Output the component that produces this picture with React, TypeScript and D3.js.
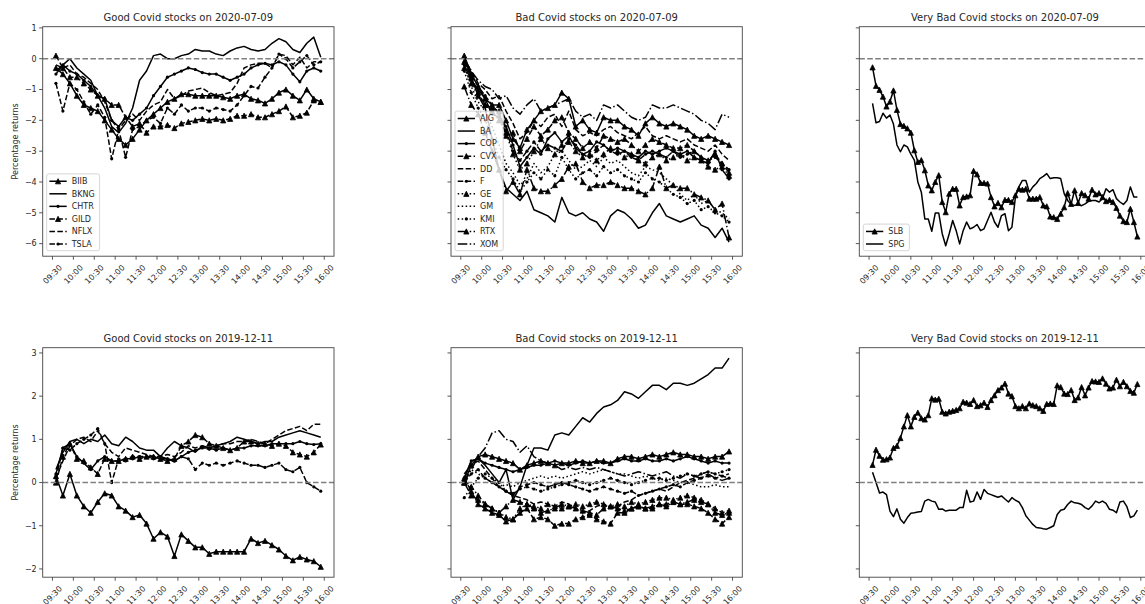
import React from "react";
import * as d3 from "d3";

// tick labels
const timeTicks = ["09:30", "10:00", "10:30", "11:00", "11:30", "12:00", "12:30", "13:00", "13:30", "14:00", "14:30", "15:00", "15:30", "16:00"];
const yTicksTop = [-6, -5, -4, -3, -2, -1, 0, 1];
const yTicksBottom = [-2, -1, 0, 1, 2, 3];

// sampling grids, minutes after 09:30
const every10 = d3.range(5, 386, 10);
const every5 = d3.range(5, 386, 5);

const goodNames = ["BIIB", "BKNG", "CHTR", "GILD", "NFLX", "TSLA"];
const badNames = ["AIG", "BA", "COP", "CVX", "DD", "F", "GE", "GM", "KMI", "RTX", "XOM"];
const veryBadNames = ["SLB", "SPG"];

// ---- 2020-07-09, good ----
const BIIB_0709 = [-0.3, -0.5, -0.8, -1.2, -1.5, -1.6, -1.7, -2.0, -2.3, -2.6, -2.8, -2.6, -2.3, -2.0, -1.8, -1.6, -1.4, -1.3, -1.15, -1.15, -1.2, -1.2, -1.2, -1.2, -1.25, -1.3, -1.2, -1.15, -1.3, -1.35, -1.45, -1.3, -1.1, -1.0, -1.2, -1.35, -1.0, -1.3, -1.4];
const BKNG_0709 = [-0.4, -0.2, 0.0, -0.3, -0.5, -0.7, -1.2, -1.6, -2.2, -2.4, -2.1, -1.6, -0.7, -0.4, 0.1, 0.15, 0.0, 0.0, 0.1, 0.15, 0.3, 0.25, 0.25, 0.15, 0.1, 0.25, 0.35, 0.4, 0.3, 0.25, 0.3, 0.5, 0.65, 0.55, 0.3, 0.2, 0.5, 0.7, 0.05];
const CHTR_0709 = [-0.5, -0.2, -0.4, -0.5, -0.7, -0.9, -1.2, -1.3, -2.0, -2.2, -1.9, -2.0, -1.8, -1.6, -1.2, -0.9, -0.6, -0.5, -0.4, -0.3, -0.35, -0.45, -0.5, -0.5, -0.6, -0.7, -0.6, -0.5, -0.3, -0.2, -0.15, -0.2, -0.1, -0.2, -0.5, -0.75, -0.4, -0.3, -0.4];
const GILD_0709 = [0.1, -0.3, -0.6, -0.6, -0.8, -1.0, -1.2, -1.3, -1.5, -1.5, -1.9, -2.2, -2.1, -2.4, -2.2, -2.2, -2.15, -2.25, -2.1, -2.05, -2.0, -1.95, -2.0, -1.95, -2.0, -1.95, -1.85, -1.85, -1.8, -1.9, -1.9, -1.8, -1.7, -1.55, -1.9, -1.85, -1.75, -1.35, -1.4];
const NFLX_0709 = [-0.2, -0.3, -0.2, -0.5, -0.6, -0.8, -1.0, -1.4, -2.0, -2.3, -2.0, -1.8, -2.0, -1.7, -1.5, -1.4, -1.0, -1.3, -1.2, -1.05, -1.0, -0.95, -1.1, -1.2, -1.15, -1.1, -0.8, -0.3, -0.2, -0.15, -0.15, -0.3, 0.15, 0.1, -0.2, 0.05, -0.3, -0.1, -0.1];
const TSLA_0709 = [-0.8, -1.7, -0.8, -1.0, -1.4, -1.8, -1.5, -1.9, -3.25, -2.3, -3.2, -2.3, -2.2, -2.0, -1.9, -2.1, -1.6, -1.8, -1.5, -1.7, -1.6, -1.6, -1.7, -1.6, -1.65, -1.7, -1.5, -1.2, -0.9, -0.95, -0.6, -0.3, 0.15, 0.0, -0.3, -0.1, 0.1, -0.2, -0.1];

// ---- 2020-07-09, bad ----
const AIG_0709 = [0.1, -0.5, -0.9, -1.3, -1.5, -1.5, -2.0, -2.6, -2.9, -2.3, -2.0, -1.7, -1.6, -1.5, -1.1, -1.3, -2.2, -2.0, -2.3, -2.4, -1.9, -2.0, -2.0, -2.2, -2.3, -2.5, -2.1, -1.9, -2.1, -2.2, -2.1, -2.2, -2.3, -2.5, -2.6, -2.5, -2.6, -2.7, -2.8];
const BA_0709 = [0.0, -0.6, -1.2, -1.6, -2.6, -3.6, -4.2, -4.4, -4.6, -4.3, -4.9, -5.0, -5.1, -5.3, -4.5, -5.0, -5.1, -5.0, -5.2, -5.3, -5.6, -5.1, -4.9, -5.0, -5.2, -5.5, -5.4, -5.0, -4.7, -5.1, -5.2, -5.3, -5.2, -5.1, -5.4, -5.5, -5.8, -5.5, -5.95];
const COP_0709 = [-0.2, -0.7, -1.0, -1.3, -1.8, -1.9, -2.2, -2.8, -3.5, -3.2, -2.9, -3.1, -2.6, -2.4, -2.7, -2.5, -2.9, -3.1, -3.0, -2.7, -2.8, -3.0, -2.9, -3.0, -3.1, -3.2, -3.0, -3.1, -3.0, -2.9, -3.0, -3.1, -3.0, -3.2, -3.3, -3.4, -3.0, -3.6, -3.9];
const CVX_0709 = [-0.1, -0.6, -1.1, -1.5, -1.6, -1.7, -2.5, -2.4, -3.0, -2.6, -2.2, -2.5, -2.3, -2.0, -1.9, -2.4, -2.6, -2.9, -2.7, -2.9, -2.5, -2.6, -2.7, -2.6, -2.8, -3.0, -2.8, -2.6, -2.7, -2.8, -2.9, -2.9, -2.8, -3.0, -3.2, -3.3, -3.1, -3.4, -3.7];
const DD_0709 = [0.0, -0.4, -0.8, -1.0, -1.3, -1.2, -1.7, -2.1, -2.6, -2.4, -2.0, -2.2, -1.9, -1.8, -2.2, -1.7, -2.3, -2.5, -2.4, -2.5, -2.3, -2.2, -2.4, -2.5, -2.6, -2.4, -2.2, -2.5, -2.6, -2.5, -2.6, -2.7, -2.6, -2.8, -2.9, -3.0, -2.8, -3.1, -3.3];
const F_0709 = [-0.1, -0.5, -0.9, -1.2, -1.5, -1.8, -2.3, -3.0, -3.3, -3.0, -2.7, -3.0, -2.8, -2.9, -3.0, -2.6, -2.8, -3.1, -3.2, -3.0, -2.8, -3.0, -3.1, -3.0, -3.2, -3.3, -3.1, -3.0, -3.1, -3.2, -3.0, -3.2, -3.1, -3.0, -3.2, -3.3, -3.2, -3.4, -3.6];
const GE_0709 = [-0.3, -0.8, -1.2, -1.5, -1.7, -2.0, -2.4, -3.1, -3.6, -3.4, -3.0, -2.6, -2.9, -3.1, -2.8, -2.7, -3.0, -3.2, -3.1, -3.3, -3.1, -2.9, -3.0, -3.2, -3.1, -3.3, -3.4, -3.2, -3.1, -3.3, -3.2, -3.1, -3.3, -3.2, -3.3, -3.5, -3.6, -3.5, -3.8];
const GM_0709 = [-0.2, -0.9, -1.4, -1.7, -2.2, -2.8, -3.4, -3.7, -4.1, -3.9, -3.4, -3.7, -3.5, -3.1, -3.0, -3.3, -3.6, -3.5, -3.3, -3.5, -3.2, -3.4, -3.3, -3.5, -3.7, -3.8, -3.5, -3.6, -3.7, -3.9, -4.1, -4.4, -4.6, -4.4, -4.7, -4.6, -4.9, -5.0, -5.2];
const KMI_0709 = [-0.4, -1.1, -1.6, -2.0, -2.6, -3.2, -3.6, -3.9, -4.3, -4.0, -3.7, -3.9, -3.6, -3.8, -3.2, -3.6, -3.9, -3.7, -3.6, -3.8, -3.5, -3.7, -3.6, -3.8, -3.9, -4.0, -3.7, -3.9, -4.0, -4.2, -4.4, -4.5, -4.7, -4.6, -4.9, -4.8, -5.0, -5.1, -5.3];
const RTX_0709 = [-0.9, -1.5, -1.8, -2.4, -3.0, -3.6, -4.3, -4.0, -4.4, -3.6, -4.2, -4.3, -4.3, -4.1, -3.9, -3.5, -3.4, -4.0, -4.2, -4.1, -4.1, -4.0, -4.1, -4.2, -4.2, -4.3, -4.4, -4.2, -3.5, -4.2, -4.1, -4.2, -4.2, -4.4, -4.5, -4.6, -4.9, -4.7, -5.8];
const XOM_0709 = [0.0, -0.4, -0.7, -0.9, -1.0, -1.3, -1.2, -1.6, -1.8, -1.5, -1.3, -1.7, -1.6, -1.5, -1.4, -1.3, -1.7, -1.9, -1.8, -2.0, -1.5, -1.6, -1.5, -1.7, -1.9, -2.0, -1.9, -1.5, -1.6, -1.6, -1.5, -1.6, -1.7, -1.8, -2.0, -2.1, -2.3, -1.8, -1.9];

// ---- 2020-07-09, very bad (5 min) ----
const SLB_0709 = [-0.28, -0.88, -1.01, -1.23, -1.55, -1.39, -1.03, -1.66, -2.12, -2.18, -2.26, -2.4, -2.97, -3.35, -3.29, -3.62, -4.11, -4.27, -4.0, -3.78, -4.65, -4.98, -4.38, -4.22, -4.22, -4.76, -4.49, -4.47, -4.43, -3.64, -3.75, -4.03, -4.03, -4.05, -4.49, -4.79, -4.68, -4.82, -4.58, -4.58, -4.65, -4.43, -4.22, -4.25, -4.22, -4.54, -4.54, -4.54, -4.49, -4.76, -4.79, -5.12, -5.14, -5.2, -5.03, -4.82, -4.36, -4.71, -4.27, -4.68, -4.36, -4.43, -4.54, -4.25, -4.4, -4.36, -4.49, -4.62, -4.58, -4.65, -4.84, -5.09, -5.27, -5.3, -4.87, -5.3, -5.77];
const SPG_0709 = [-1.45, -2.08, -2.04, -1.77, -1.93, -1.83, -2.12, -2.8, -3.02, -2.8, -2.86, -3.1, -3.29, -4.0, -4.33, -5.2, -5.2, -5.6, -5.01, -5.01, -5.68, -6.07, -5.68, -5.25, -5.58, -6.01, -5.58, -5.3, -5.52, -5.47, -5.38, -5.58, -5.52, -5.25, -4.98, -5.3, -5.47, -5.09, -5.03, -5.58, -5.47, -4.49, -4.16, -3.95, -3.95, -4.33, -4.16, -4.05, -3.89, -3.82, -3.73, -3.89, -3.86, -3.86, -3.89, -4.38, -4.6, -4.73, -4.76, -4.73, -4.77, -4.71, -4.63, -4.6, -4.6, -4.65, -4.54, -4.22, -4.33, -4.25, -4.54, -4.65, -4.73, -4.6, -4.16, -4.49, -4.49];

// ---- 2019-12-11, good ----
const BIIB_1211 = [0.15, -0.3, 0.2, -0.3, -0.55, -0.7, -0.45, -0.25, -0.3, -0.55, -0.65, -0.8, -0.75, -0.95, -1.3, -1.15, -1.25, -1.7, -1.2, -1.35, -1.5, -1.5, -1.65, -1.6, -1.6, -1.6, -1.6, -1.6, -1.3, -1.4, -1.35, -1.45, -1.55, -1.7, -1.8, -1.72, -1.78, -1.82, -1.95];
const BKNG_1211 = [0.3, 0.7, 0.95, 1.0, 0.9, 1.0, 0.95, 1.1, 0.9, 0.85, 1.05, 0.95, 0.8, 0.75, 0.75, 0.6, 0.8, 0.95, 0.85, 0.8, 0.7, 0.85, 0.8, 0.85, 0.9, 0.95, 1.05, 1.0, 0.95, 0.9, 0.95, 0.95, 1.05, 1.1, 1.15, 1.2, 1.15, 1.1, 1.05];
const CHTR_1211 = [0.2, 0.8, 0.9, 0.6, 0.45, 0.3, 0.5, 0.6, 0.5, 0.5, 0.55, 0.55, 0.6, 0.58, 0.6, 0.55, 0.55, 0.5, 0.6, 0.7, 0.75, 0.8, 0.8, 0.75, 0.8, 0.75, 0.8, 0.8, 0.85, 0.85, 0.85, 0.9, 0.9, 0.9, 0.9, 0.95, 0.9, 0.88, 0.9];
const GILD_1211 = [0.0, 0.6, 0.9, 0.55, 0.5, 0.35, 0.2, 0.55, 0.5, 0.5, 0.55, 0.6, 0.55, 0.6, 0.6, 0.55, 0.5, 0.55, 0.85, 0.95, 1.1, 1.05, 0.9, 0.85, 0.8, 0.75, 0.8, 0.95, 0.95, 0.9, 0.9, 0.85, 0.9, 0.85, 0.7, 0.65, 0.6, 0.7, 0.88];
const NFLX_1211 = [0.1, 0.5, 0.85, 1.0, 1.05, 0.95, 1.2, 0.9, 0.7, 0.6, 0.8, 0.75, 0.7, 0.65, 0.6, 0.6, 0.65, 0.6, 0.7, 0.85, 0.8, 0.85, 0.75, 0.85, 0.9, 0.9, 0.95, 0.95, 1.0, 0.95, 0.9, 1.0, 1.1, 1.2, 1.25, 1.3, 1.2, 1.35, 1.35];
const TSLA_1211 = [0.1, 0.8, 0.75, 0.9, 1.0, 1.1, 1.25, 0.9, 0.0, 0.55, 0.5, 0.6, 0.6, 0.6, 0.55, 0.6, 0.55, 0.5, 0.6, 0.55, 0.3, 0.45, 0.4, 0.45, 0.4, 0.45, 0.5, 0.45, 0.4, 0.4, 0.35, 0.4, 0.45, 0.3, 0.25, 0.35, 0.0, -0.1, -0.2];

// ---- 2019-12-11, bad ----
const AIG_1211 = [0.0, 0.4, 0.6, 0.65, 0.6, 0.55, 0.5, 0.45, 0.3, 0.4, 0.45, 0.5, 0.45, 0.4, 0.45, 0.45, 0.5, 0.45, 0.45, 0.5, 0.5, 0.45, 0.55, 0.6, 0.6, 0.55, 0.6, 0.65, 0.6, 0.65, 0.7, 0.65, 0.65, 0.6, 0.6, 0.55, 0.6, 0.6, 0.72];
const BA_1211 = [0.1, 0.5, 0.55, 0.4, 0.2, 0.0, 0.3, -0.4, -0.1, 0.4, 0.8, 0.8, 0.75, 1.1, 1.15, 1.1, 1.3, 1.5, 1.4, 1.6, 1.75, 1.8, 1.9, 2.1, 2.05, 1.95, 2.1, 2.25, 2.25, 2.15, 2.3, 2.3, 2.25, 2.3, 2.4, 2.5, 2.65, 2.65, 2.88];
const COP_1211 = [0.1, 0.5, 0.55, 0.45, 0.4, 0.35, 0.3, 0.25, 0.3, 0.35, 0.4, 0.4, 0.45, 0.5, 0.45, 0.4, 0.45, 0.5, 0.45, 0.5, 0.45, 0.45, 0.5, 0.55, 0.5, 0.5, 0.55, 0.5, 0.5, 0.55, 0.5, 0.55, 0.6, 0.55, 0.5, 0.45, 0.5, 0.45, 0.45];
const CVX_1211 = [0.1, -0.2, -0.5, -0.6, -0.7, -0.75, -0.9, -0.85, -0.7, -0.6, -0.85, -0.8, -0.85, -1.0, -0.95, -0.95, -0.85, -0.8, -0.75, -0.85, -0.9, -0.95, -0.7, -0.7, -0.6, -0.55, -0.6, -0.6, -0.5, -0.5, -0.45, -0.5, -0.5, -0.55, -0.6, -0.7, -0.85, -0.95, -0.8];
const DD_1211 = [0.2, 0.4, 0.5, 0.3, 0.1, -0.1, -0.2, -0.3, -0.35, -0.4, -0.5, -0.45, -0.5, -0.55, -0.45, -0.5, -0.6, -0.7, -0.65, -0.55, -0.5, -0.6, -0.55, -0.45, -0.4, -0.3, -0.25, -0.2, -0.15, -0.2, -0.1, 0.0, 0.05, 0.1, 0.2, 0.25, 0.2, 0.15, 0.2];
const F_1211 = [0.0, 0.2, 0.3, 0.1, 0.0, -0.1, -0.2, -0.3, -0.1, -0.05, 0.0, -0.05, -0.1, -0.05, 0.0, -0.05, -0.1, -0.15, -0.2, -0.15, -0.1, -0.15, -0.2, -0.25, -0.2, -0.3, -0.25, -0.2, -0.15, -0.1, -0.05, -0.1, 0.0, 0.05, 0.1, 0.15, 0.1, 0.15, 0.1];
const GE_1211 = [0.05, -0.1, -0.3, -0.5, -0.6, -0.7, -0.8, -0.85, -0.6, -0.5, -0.55, -0.6, -0.5, -0.55, -0.6, -0.55, -0.5, -0.55, -0.5, -0.45, -0.5, -0.55, -0.5, -0.55, -0.45, -0.5, -0.45, -0.4, -0.35, -0.35, -0.4, -0.35, -0.3, -0.35, -0.4, -0.5, -0.6, -0.7, -0.65];
const GM_1211 = [0.1, 0.3, 0.2, 0.1, 0.0, -0.1, -0.05, -0.1, 0.0, 0.05, 0.1, 0.15, 0.1, 0.15, 0.1, 0.15, 0.2, 0.25, 0.2, 0.25, 0.3, 0.25, 0.2, 0.2, 0.15, 0.1, 0.15, 0.1, 0.05, 0.1, 0.05, 0.0, 0.0, -0.05, -0.1, -0.1, -0.05, -0.1, -0.1];
const KMI_1211 = [-0.35, -0.1, 0.1, 0.2, 0.1, 0.0, -0.2, -0.25, -0.15, -0.1, -0.15, -0.2, -0.15, -0.1, -0.05, 0.0, 0.05, 0.0, -0.05, 0.0, 0.05, 0.1, 0.05, 0.0, -0.05, 0.0, 0.05, 0.1, 0.1, 0.05, 0.1, 0.15, 0.2, 0.15, 0.2, 0.25, 0.2, 0.25, 0.3];
const RTX_1211 = [0.0, -0.3, -0.4, -0.5, -0.6, -0.7, -0.55, -0.4, -0.45, -0.5, -0.6, -0.7, -0.65, -0.6, -0.5, -0.55, -0.6, -0.65, -0.7, -0.75, -0.6, -0.55, -0.6, -0.65, -0.6, -0.55, -0.6, -0.55, -0.5, -0.55, -0.45, -0.5, -0.45, -0.4, -0.45, -0.5, -0.7, -0.75, -0.7];
const XOM_1211 = [0.0, 0.3, 0.6, 0.8, 1.15, 1.2, 1.0, 0.95, 0.7, 0.85, 0.6, 0.5, 0.45, 0.4, 0.3, 0.35, 0.3, 0.35, 0.3, 0.35, 0.3, 0.25, 0.2, 0.15, 0.2, 0.25, 0.2, 0.15, 0.2, 0.25, 0.15, 0.1, 0.2, 0.15, 0.1, 0.2, 0.1, 0.05, 0.1];

// ---- 2019-12-11, very bad (5 min) ----
const SLB_1211 = [0.41, 0.76, 0.62, 0.53, 0.54, 0.58, 0.8, 0.85, 1.03, 1.3, 1.56, 1.3, 1.52, 1.62, 1.49, 1.46, 1.56, 1.95, 1.92, 1.94, 1.64, 1.6, 1.64, 1.66, 1.68, 1.72, 1.87, 1.85, 1.82, 1.91, 1.77, 1.79, 1.85, 1.75, 1.91, 2.02, 2.14, 2.2, 2.29, 2.06, 2.0, 1.77, 1.72, 1.77, 1.72, 1.83, 1.79, 1.77, 1.72, 1.66, 1.82, 1.83, 1.82, 2.25, 2.21, 2.06, 2.05, 2.14, 1.91, 1.97, 2.21, 2.02, 2.2, 2.35, 2.34, 2.33, 2.41, 2.29, 2.18, 2.2, 2.38, 2.23, 2.33, 2.23, 2.12, 2.08, 2.28];
const SPG_1211 = [0.24, 0.0, -0.24, -0.22, -0.28, -0.66, -0.79, -0.61, -0.85, -0.94, -0.81, -0.71, -0.7, -0.68, -0.67, -0.43, -0.39, -0.43, -0.45, -0.62, -0.61, -0.66, -0.64, -0.64, -0.64, -0.58, -0.58, -0.18, -0.45, -0.43, -0.22, -0.39, -0.16, -0.25, -0.28, -0.31, -0.34, -0.31, -0.38, -0.45, -0.35, -0.41, -0.45, -0.58, -0.77, -0.87, -0.97, -1.04, -1.05, -1.07, -1.08, -1.04, -1.0, -0.74, -0.64, -0.62, -0.51, -0.43, -0.47, -0.48, -0.51, -0.58, -0.62, -0.54, -0.43, -0.47, -0.43, -0.48, -0.62, -0.64, -0.7, -0.45, -0.43, -0.56, -0.81, -0.77, -0.64];

type Group = { title: string; names: string[]; t: number[]; values: number[][]; legend: boolean };
type Row = { yTicks: number[]; groups: Group[] };

const rows: Row[] = [
  {
    yTicks: yTicksTop,
    groups: [
      { title: "Good Covid stocks on 2020-07-09", names: goodNames, t: every10, legend: true,
        values: [BIIB_0709, BKNG_0709, CHTR_0709, GILD_0709, NFLX_0709, TSLA_0709] },
      { title: "Bad Covid stocks on 2020-07-09", names: badNames, t: every10, legend: true,
        values: [AIG_0709, BA_0709, COP_0709, CVX_0709, DD_0709, F_0709, GE_0709, GM_0709, KMI_0709, RTX_0709, XOM_0709] },
      { title: "Very Bad Covid stocks on 2020-07-09", names: veryBadNames, t: every5, legend: true,
        values: [SLB_0709, SPG_0709] },
    ],
  },
  {
    yTicks: yTicksBottom,
    groups: [
      { title: "Good Covid stocks on 2019-12-11", names: goodNames, t: every10, legend: false,
        values: [BIIB_1211, BKNG_1211, CHTR_1211, GILD_1211, NFLX_1211, TSLA_1211] },
      { title: "Bad Covid stocks on 2019-12-11", names: badNames, t: every10, legend: false,
        values: [AIG_1211, BA_1211, COP_1211, CVX_1211, DD_1211, F_1211, GE_1211, GM_1211, KMI_1211, RTX_1211, XOM_1211] },
      { title: "Very Bad Covid stocks on 2019-12-11", names: veryBadNames, t: every5, legend: false,
        values: [SLB_1211, SPG_1211] },
    ],
  },
];

// layout
const COL_LEFT = [42.7, 451, 859.3];
const ROW_TOP = [26.7, 347.7];
const AX_W = 291.3;
const AX_H = 229.5;
const TEXT = "#262626";
const SPINE = "#444";

// matplotlib style cycle: linestyle changes every 3 lines, marker cycles ^ / none / .
const LINESTYLES = ["-", "--", ":", "-."];
const MARKERS = ["^", "", "."];
const DASHES: Record<string, string | undefined> = {
  "-": undefined,
  "--": "5.55,2.4",
  ":": "1.5,2.475",
  "-.": "9.6,2.4,1.5,2.4",
};

const toMinutes = (s: string) => {
  const [h, m] = s.split(":").map(Number);
  return h * 60 + m - (9 * 60 + 30);
};

const padded = (lo: number, hi: number): [number, number] => {
  const p = (hi - lo) * 0.05;
  return [lo - p, hi + p];
};

const xDomain = padded(d3.min(every10) as number, d3.max(every10) as number);

let ctx: CanvasRenderingContext2D | null = null;
const textWidth = (s: string) => {
  if (!ctx) {
    ctx = document.createElement("canvas").getContext("2d");
    if (ctx) ctx.font = "8px 'DejaVu Sans'";
  }
  return ctx ? ctx.measureText(s).width : s.length * 5.5;
};

const Marker: React.FC<{ kind: string; cx: number; cy: number }> = ({ kind, cx, cy }) => {
  if (kind === "^") {
    const h = 2.6;
    return <path d={`M${cx},${cy - h}L${cx + h},${cy + h}L${cx - h},${cy + h}Z`} fill="#000" stroke="#000" strokeWidth={0.8} />;
  }
  if (kind === ".") return <circle cx={cx} cy={cy} r={1.6} fill="#000" />;
  return null;
};

const Panel: React.FC<{ group: Group; row: number; col: number; yDomain: [number, number]; yTicks: number[] }> = ({
  group, row, col, yDomain, yTicks,
}) => {
  const left = COL_LEFT[col];
  const top = ROW_TOP[row];
  const right = left + AX_W;
  const bottom = top + AX_H;
  const x = d3.scaleLinear().domain(xDomain).range([left, right]);
  const y = d3.scaleLinear().domain(yDomain).range([bottom, top]);
  const line = d3
    .line<[number, number]>()
    .x((d) => x(d[0]))
    .y((d) => y(d[1]));
  const clipId = `clip-${row}-${col}`;

  // legend geometry (lower left, matplotlib-like)
  const n = group.names.length;
  const rowStep = 12.55;
  const boxLeft = left + 4;
  const boxBottom = bottom - 5.5;
  const boxH = n * rowStep + 1.5;
  const boxW = 25 + (d3.max(group.names, textWidth) as number) + 5;

  return (
    <g>
      <defs>
        <clipPath id={clipId}>
          <rect x={left} y={top} width={AX_W} height={AX_H} />
        </clipPath>
      </defs>

      <g clipPath={`url(#${clipId})`}>
        {group.values.map((vals, k) => {
          const pts = group.t.map((t, i) => [t, vals[i]] as [number, number]);
          const ls = LINESTYLES[Math.floor(k / 3)];
          const mk = MARKERS[k % 3];
          return (
            <g key={group.names[k]}>
              <path d={line(pts) || ""} fill="none" stroke="#000" strokeWidth={1.5}
                strokeDasharray={DASHES[ls]} strokeLinejoin="round" />
              {mk && pts.map((p, i) => <Marker key={i} kind={mk} cx={x(p[0])} cy={y(p[1])} />)}
            </g>
          );
        })}
        <line x1={left} x2={right} y1={y(0)} y2={y(0)} stroke="#808080" strokeWidth={1.5} strokeDasharray="5.55,2.4" />
      </g>

      <rect x={left} y={top} width={AX_W} height={AX_H} fill="none" stroke={SPINE} strokeWidth={0.9} />

      {timeTicks.map((lab) => {
        const tx = x(toMinutes(lab));
        return (
          <g key={lab}>
            <line x1={tx} x2={tx} y1={bottom} y2={bottom + 3.5} stroke={SPINE} strokeWidth={0.9} />
            <text transform={`translate(${tx},${bottom + 18.2}) rotate(-45)`} textAnchor="middle" dy="0.35em"
              fontSize={8} fill={TEXT}>
              {lab}
            </text>
          </g>
        );
      })}

      {yTicks.map((v) => (
        <g key={v}>
          <line x1={left - 3.5} x2={left} y1={y(v)} y2={y(v)} stroke={SPINE} strokeWidth={0.9} />
          {col === 0 && (
            <text x={left - 6} y={y(v)} dy="0.35em" textAnchor="end" fontSize={8} fill={TEXT}>
              {v < 0 ? `\u2212${Math.abs(v)}` : `${v}`}
            </text>
          )}
        </g>
      ))}

      {col === 0 && (
        <text transform={`translate(15,${(top + bottom) / 2}) rotate(-90)`} textAnchor="middle" dy="0.35em"
          fontSize={8} fill={TEXT}>
          Percentage returns
        </text>
      )}

      <text x={(left + right) / 2} y={top - 5.5} textAnchor="middle" fontSize={10} fill={TEXT}>
        {group.title}
      </text>

      {group.legend && (
        <g>
          <rect x={boxLeft} y={boxBottom - boxH} width={boxW} height={boxH} rx={2} fill="#fff" fillOpacity={0.8}
            stroke="#cccccc" strokeWidth={0.8} />
          {group.names.map((name, k) => {
            const ly = boxBottom - 6.7 - (n - 1 - k) * rowStep;
            const ls = LINESTYLES[Math.floor(k / 3)];
            const mk = MARKERS[k % 3];
            return (
              <g key={name}>
                <line x1={boxLeft + 2.7} x2={boxLeft + 20} y1={ly} y2={ly} stroke="#000" strokeWidth={1.5}
                  strokeDasharray={DASHES[ls]} />
                {mk && <Marker kind={mk} cx={boxLeft + 11.35} cy={ly} />}
                <text x={boxLeft + 25} y={ly} dy="0.35em" fontSize={8} fill={TEXT}>
                  {name}
                </text>
              </g>
            );
          })}
        </g>
      )}
    </g>
  );
};

export default function App() {
  return (
    <svg width={1145} height={604} style={{ position: "absolute", left: 0, top: 0, background: "#fff" }}
      fontFamily="'DejaVu Sans', sans-serif">
      <rect x={0} y={0} width={1145} height={604} fill="#fff" />
      {rows.map((r, ri) => {
        const all = r.groups.flatMap((g) => g.values.flat());
        const yDomain = padded(d3.min(all) as number, d3.max(all) as number);
        return r.groups.map((g, ci) => (
          <Panel key={`${ri}-${ci}`} group={g} row={ri} col={ci} yDomain={yDomain} yTicks={r.yTicks} />
        ));
      })}
    </svg>
  );
}
